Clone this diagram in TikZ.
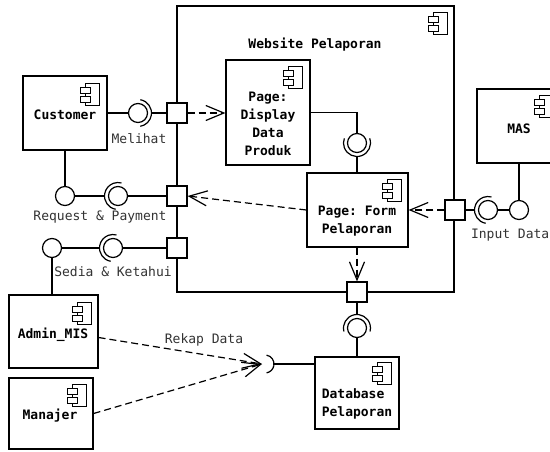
\documentclass[tikz,border=0pt]{standalone}
\usepackage{fontspec}
\setmonofont{DejaVu Sans Mono}
\usetikzlibrary{arrows.meta,calc}
\tikzset{
  comp/.style={draw, fill=white, line width=1.2pt, inner sep=0pt},
  port/.style={draw, fill=white, minimum size=20pt, inner sep=0pt, line width=1.2pt},
  ball/.style={draw, fill=white, circle, minimum size=19pt, inner sep=0pt, line width=1.2pt},
  title/.style={font=\ttfamily\bfseries\fontsize{13}{18}\selectfont, align=center, inner sep=0pt},
  lbl/.style={font=\ttfamily\fontsize{13}{18}\selectfont, text=black!80, inner sep=0pt},
  dep/.style={line width=1.2pt, dash pattern=on 7pt off 4pt, -{Straight Barb[length=18pt,width=15pt]}},
  conn/.style={line width=1.2pt},
  compicon/.pic={
    \draw[fill=white, line width=1.1pt] (0,0) rectangle (14,22);
    \draw[fill=white, line width=1.1pt] (-5,4) rectangle (5,10);
    \draw[fill=white, line width=1.1pt] (-5,13) rectangle (5,19);
  }
}
\begin{document}
\begin{tikzpicture}[x=1pt,y=-1pt]
\useasboundingbox (0,0) rectangle (550,451);
\fill[white] (0,0) rectangle (550,451);

% outer component
\node[comp, minimum width=277pt, minimum height=286pt] (web) at (315.5,149) {};
\pic at ($(web.north east)+(-21,7)$) {compicon};
\node[title] (webt) at (315,45) {Website Pelaporan};

% components
\node[comp, minimum width=84pt, minimum height=74pt] (cust) at (65,113) {};
\pic at ($(cust.north east)+(-22,8)$) {compicon};
\node[title] (custt) at (65,115) {Customer};

\node[comp, minimum width=84pt, minimum height=105pt] (disp) at (268,112.5) {};
\pic at ($(disp.north east)+(-22,7)$) {compicon};
\node[title] (dispt) at (268,124) {Page:\\Display\\Data\\Produk};

\node[comp, minimum width=101pt, minimum height=74pt] (form) at (357.5,210) {};
\pic at ($(form.north east)+(-21,7)$) {compicon};
\node[title] (formt) at (357,221) {Page: Form\\Pelaporan};

\node[comp, minimum width=84pt, minimum height=72pt] (db) at (357,393) {};
\pic at ($(db.north east)+(-22,6)$) {compicon};
\node[title, align=left] (dbt) at (357,404) {Database\\Pelaporan};

\node[comp, minimum width=84pt, minimum height=74pt] (mas) at (519,126) {};
\pic at ($(mas.north east)+(-22,7)$) {compicon};
\node[title] (mast) at (519,129) {MAS};

\node[comp, minimum width=89pt, minimum height=73pt] (admin) at (53.5,331.5) {};
\pic at ($(admin.north east)+(-21,8)$) {compicon};
\node[title] (admint) at (53,335) {Admin\_MIS};

\node[comp, minimum width=84pt, minimum height=71pt] (manajer) at (51,413.5) {};
\pic at ($(manajer.north east)+(-21,7)$) {compicon};
\node[title] (manajert) at (50,416) {Manajer};

% balls (provided interfaces)
\node[ball] (m1) at (138,113) {};
\node[ball] (m2) at (118,196) {};
\node[ball] (m3) at (113,248) {};
\node[ball] (m4) at (357,143) {};
\node[ball] (m5) at (357,328) {};
\node[ball] (m6) at (488,210) {};
\node[ball] (c2) at (65,196) {};
\node[ball] (c3) at (52,248) {};
\node[ball] (c6) at (519,210) {};

% sockets (required interfaces)
\draw[conn] ($(m1)+(-80:13.5)$) arc[start angle=-80, end angle=80, radius=13.5];
\draw[conn] ($(m2)+(100:13.5)$) arc[start angle=100, end angle=285, radius=13.5];
\draw[conn] ($(m3)+(100:13.5)$) arc[start angle=100, end angle=285, radius=13.5];
\draw[conn] ($(m4)+(-20:13.5)$) arc[start angle=-20, end angle=200, radius=13.5];
\draw[conn] ($(m5)+(165:13.5)$) arc[start angle=165, end angle=375, radius=13.5];
\draw[conn] ($(m6)+(100:13.5)$) arc[start angle=100, end angle=285, radius=13.5];
\coordinate (s1) at ($(m1)+(13.5,0)$);
\coordinate (s2) at ($(m2)+(-13.5,0)$);
\coordinate (s3) at ($(m3)+(-13.5,0)$);
\coordinate (s4) at ($(m4)+(0,13.5)$);
\coordinate (s5) at ($(m5)+(0,-13.5)$);
\coordinate (s6) at ($(m6)+(-13.5,0)$);

% Rekap socket
\coordinate (rk) at (262,364);
\draw[conn] ($(265,364)+(-80:9)$) arc[start angle=-80, end angle=80, radius=9];
\coordinate (rks) at (274,364);

% ports
\node[port] (p1) at (177,113) {};
\node[port] (p2) at (177,196) {};
\node[port] (p3) at (177,248) {};
\node[port] (p4) at (357,292) {};
\node[port] (p5) at (455,210) {};

% assembly connectors
\draw[conn] (cust.east |- m1) -- (m1.west);
\draw[conn] (s1) -- (p1.west);
\draw[conn] (cust.south) -- (c2.north);
\draw[conn] (c2.east) -- (s2);
\draw[conn] (m2.east) -- (p2.west);
\draw[conn] (c3.east) -- (s3);
\draw[conn] (m3.east) -- (p3.west);
\draw[conn] (c3.south) -- (c3.south |- admin.north);
\draw[conn] (disp.east) -| (m4.north);
\draw[conn] (s4) -- (s4 |- form.north);
\draw[conn] (p4.south) -- (s5);
\draw[conn] (m5.south) -- (db.north);
\draw[conn] (p5.east) -- (s6);
\draw[conn] (m6.east) -- (c6.west);
\draw[conn] (c6.north) -- (mas.south);
\draw[conn] (rks) -- (rks -| db.west);

% dependencies
\draw[dep] (p1.east) -- (p1 -| disp.west);
\draw[dep] (form.west) -- (p2.east);
\draw[dep] (p5.west) -- (p5 -| form.east);
\draw[dep] (form.south -| p4) -- (p4.north);
\draw[dep] ([yshift=-6pt]admin.east) -- (rk);
\draw[dep] (manajer.east) -- (rk);

% labels
\node[lbl] (lmel) at (139,139) {Melihat};
\node[lbl] (lreq) at (100,217) {Request \& Payment};
\node[lbl] (lsed) at (113,272) {Sedia \& Ketahui};
\node[lbl] (lrek) at (204,340) {Rekap Data};
\node[lbl, anchor=east] (linp) at (549.5,235) {Input Data};
\end{tikzpicture}
\end{document}
